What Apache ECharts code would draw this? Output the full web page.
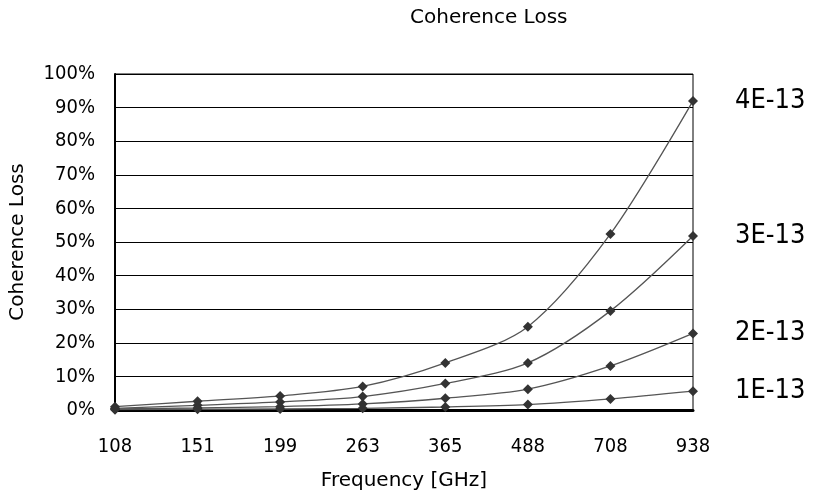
<!DOCTYPE html>
<html>
<head>
<meta charset="utf-8">
<script src="https://cdn.jsdelivr.net/npm/echarts@6/dist/echarts.min.js"></script>
<style>
  html, body { margin: 0; padding: 0; background: #fff; }
  #main { width: 814px; height: 502px; }
</style>
</head>
<body>
<div id="main"></div>
<script>
// 横轴频率 (GHz)
var freqs = ['108', '151', '199', '263', '365', '488', '708', '938'];
var seriesNames = ['4E-13', '3E-13', '2E-13', '1E-13'];
// 各曲线数值 (%)
var loss4 = [1.0, 2.6, 4.2, 7.0, 14.0, 24.8, 52.4, 92.0];
var loss3 = [0.5, 1.4, 2.4, 4.0, 7.9, 14.0, 29.5, 51.8];
var loss2 = [0.3, 0.6, 1.0, 1.8, 3.5, 6.2, 13.1, 22.8];
var loss1 = [0.1, 0.2, 0.3, 0.5, 0.9, 1.6, 3.3, 5.6];
var yMin = 0, yMax = 100, yStep = 10;

var font = "'DejaVu Sans Condensed', 'Liberation Sans Narrow', 'DejaVu Sans', sans-serif";
var wideFont = "'DejaVu Sans', sans-serif";

function makeSeries(name, data) {
    return {
        name: name,
        type: 'line',
        data: data,
        smooth: 0.3,
        symbol: 'diamond',
        symbolSize: 10,
        lineStyle: { color: '#555', width: 1.3 },
        itemStyle: { color: '#333' },
        endLabel: {
            show: true,
            formatter: '{a}',
            distance: 42,
            color: '#000',
            fontFamily: font,
            fontSize: 27
        },
        animation: false
    };
}

const myCharts = echarts.init(document.getElementById('main'));
var option = {
    backgroundColor: '#fff',
    title: {
        text: 'Coherence Loss',
        left: 405,
        top: 3,
        textStyle: {
            color: '#000',
            fontWeight: 'normal',
            fontFamily: wideFont,
            fontSize: 20
        }
    },
    grid: {
        left: 113,
        right: 121,
        top: 74,
        bottom: 92,
        show: true,
        borderColor: '#000',
        borderWidth: 1
    },
    xAxis: {
        type: 'category',
        boundaryGap: false,
        data: freqs,
        name: 'Frequency [GHz]',
        nameLocation: 'middle',
        nameGap: 61,
        nameTextStyle: { color: '#000', fontFamily: wideFont, fontSize: 20 },
        axisLine: { lineStyle: { color: '#000', width: 3 } },
        axisTick: { show: false },
        axisLabel: { color: '#000', fontFamily: font, fontSize: 20, margin: 27 },
        splitLine: { show: false }
    },
    yAxis: {
        type: 'value',
        min: yMin,
        max: yMax,
        interval: yStep,
        name: 'Coherence Loss',
        nameLocation: 'middle',
        nameGap: 87,
        nameTextStyle: { color: '#000', fontFamily: wideFont, fontSize: 20 },
        axisLine: { show: true, lineStyle: { color: '#000', width: 2 } },
        axisTick: { show: false },
        axisLabel: { color: '#000', fontFamily: font, fontSize: 20, margin: 20, formatter: '{value}%' },
        splitLine: { show: true, lineStyle: { color: '#000', width: 1.2 } }
    },
    series: [
        makeSeries(seriesNames[0], loss4),
        makeSeries(seriesNames[1], loss3),
        makeSeries(seriesNames[2], loss2),
        makeSeries(seriesNames[3], loss1)
    ]
};
myCharts.setOption(option);
</script>
</body>
</html>
